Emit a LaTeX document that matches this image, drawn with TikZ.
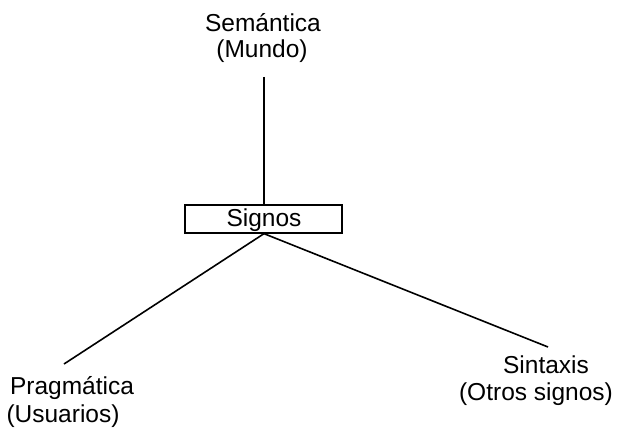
\documentclass[tikz,border=0pt]{standalone}
\usepackage{fontspec}
\setmainfont{Liberation Sans}
\begin{document}
\begin{tikzpicture}[x=1pt,y=-1pt,
  lbl/.style={anchor=base,inner sep=0pt,font=\fontsize{24.5}{28}\selectfont},
  ln/.style={line width=1.6pt,black}]
\useasboundingbox (0,0) rectangle (621,428);
\node[lbl] (sem) at (263,32) {Semántica};
\node[lbl] (mun) at (262,58) {(Mundo)};
\coordinate (top) at (264,77);
\node[draw,line width=1.3pt,minimum width=157pt,minimum height=28pt,inner sep=0pt] (sig) at (263.5,219) {};
\node[lbl] (sigt) at (264,226) {Signos};
\coordinate (l) at (64,364);
\coordinate (r) at (548,347);
\draw[ln] (top) -- (sig.north -| top);
\draw[ln] (sig.south -| top) -- (l);
\draw[ln] (sig.south -| top) -- (r);
\node[lbl] (prag) at (72,394) {Pragmática};
\node[lbl] (usu) at (63,422) {(Usuarios)};
\node[lbl] (sin) at (546,373) {Sintaxis};
\node[lbl] (otr) at (536,400) {(Otros signos)};
\end{tikzpicture}
\end{document}
